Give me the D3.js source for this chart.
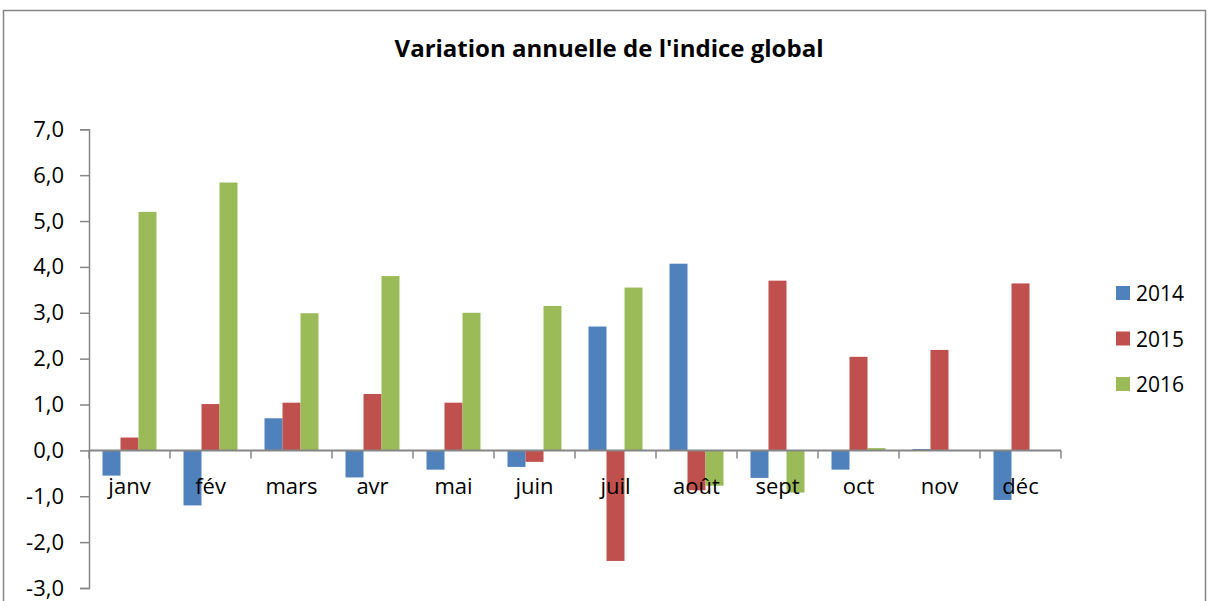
<!DOCTYPE html>
<html>
<head>
<meta charset="utf-8">
<script src="https://cdn.jsdelivr.net/npm/d3@7"></script>
<style>
  html, body { margin: 0; padding: 0; background: #fff; }
  svg { display: block; }
  text { font-family: "Open Sans", "Noto Sans", sans-serif; fill: #000; }
</style>
</head>
<body>
<script>
const title = "Variation annuelle de l'indice global";
const months = ["janv", "fév", "mars", "avr", "mai", "juin", "juil", "août", "sept", "oct", "nov", "déc"];
const seriesNames = ["2014", "2015", "2016"];
const values2014 = [-0.55, -1.2, 0.70, -0.59, -0.42, -0.36, 2.70, 4.07, -0.60, -0.42, 0.03, -1.08];
const values2015 = [0.28, 1.01, 1.04, 1.23, 1.04, -0.25, -2.41, -0.87, 3.70, 2.04, 2.19, 3.64];
const values2016 = [5.20, 5.84, 2.99, 3.80, 3.00, 3.15, 3.55, -0.77, -0.92, 0.05, null, null];
const yTicks = [-3, -2, -1, 0, 1, 2, 3, 4, 5, 6, 7];
const colors = ["#4F81BD", "#C0504D", "#9BBB59"];

(function () {
const W = 1208, H = 601;
const svg = d3.select("body").append("svg").attr("width", W).attr("height", H);

// outer chart frame
svg.append("rect")
  .attr("x", 3.5).attr("y", 10.5).attr("width", 1202).attr("height", 620)
  .attr("fill", "none").attr("stroke", "#868686").attr("stroke-width", 1.5);

svg.append("text")
  .attr("x", 609).attr("y", 57)
  .attr("text-anchor", "middle")
  .style("font-weight", "bold").style("font-size", "24px")
  .text(title);

const pLeft = 89, pRight = 1061, pTop = 129.3, pBottom = 588;
const y = d3.scaleLinear().domain([-3, 7]).range([pBottom, pTop]);
const x0 = d3.scaleBand().domain(months).range([pLeft, pRight]).paddingInner(1/3).paddingOuter(1/6);
const x1 = d3.scaleBand().domain(seriesNames).range([0, x0.bandwidth()]);

const seriesData = [values2014, values2015, values2016];

// bars
seriesData.forEach((vals, si) => {
  svg.append("g").selectAll("rect")
    .data(months.map((m, i) => ({ m, v: vals[i] })).filter(d => d.v !== null))
    .join("rect")
    .attr("x", d => x0(d.m) + x1(seriesNames[si]))
    .attr("width", x1.bandwidth())
    .attr("y", d => y(Math.max(0, d.v)))
    .attr("height", d => Math.abs(y(d.v) - y(0)))
    .attr("fill", colors[si]);
});

// y axis
const yAxis = d3.axisLeft(y).tickValues(yTicks).tickSize(9).tickPadding(16)
  .tickFormat(d => d3.format(".1f")(d).replace(".", ",").replace("−", "-"));
const gy = svg.append("g").attr("transform", `translate(${pLeft},0)`).call(yAxis);
gy.select(".domain").attr("stroke", "#868686").attr("stroke-width", 1.5);
gy.selectAll(".tick line").attr("stroke", "#868686").attr("stroke-width", 1.5);
gy.selectAll(".tick text").style("font-size", "22px").attr("fill", "#000");

// x axis at zero
const xAxisG = svg.append("g").attr("transform", `translate(0,${y(0)})`);
xAxisG.append("line").attr("x1", pLeft).attr("x2", pRight).attr("y1", 0).attr("y2", 0)
  .attr("stroke", "#868686").attr("stroke-width", 2);
const boundaries = d3.range(months.length + 1).map(i => pLeft + i * x0.step());
xAxisG.selectAll(".xt").data(boundaries).join("line")
  .attr("x1", d => d).attr("x2", d => d).attr("y1", 0).attr("y2", 8)
  .attr("stroke", "#868686").attr("stroke-width", 1.5);
xAxisG.selectAll(".xl").data(months).join("text")
  .attr("x", d => x0(d) + x0.bandwidth() / 2)
  .attr("y", 44)
  .attr("text-anchor", "middle")
  .style("font-size", "22px")
  .text(d => d);

// legend
const lg = svg.append("g");
seriesNames.forEach((s, i) => {
  const yy = 286 + i * 45.5;
  lg.append("rect").attr("x", 1116).attr("y", yy).attr("width", 14).attr("height", 14).attr("fill", colors[i]);
  lg.append("text").attr("x", 1136).attr("y", yy + 15).style("font-size", "21px").text(s);
});
})();
</script>
</body>
</html>
